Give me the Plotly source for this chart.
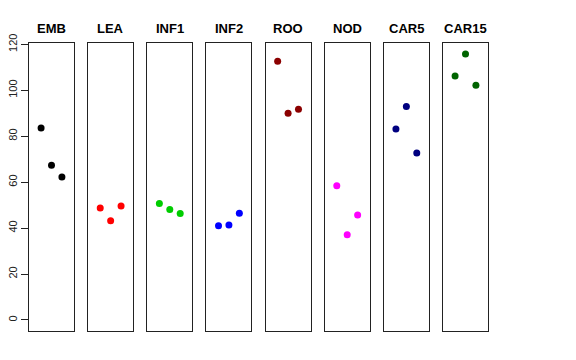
import plotly.graph_objects as go

groups = ["EMB", "LEA", "INF1", "INF2", "ROO", "NOD", "CAR5", "CAR15"]
x_positions = [1, 2, 3]
values = {
    "EMB": [83.6, 67.4, 62.2],
    "LEA": [48.8, 43.2, 49.6],
    "INF1": [50.7, 48.1, 46.4],
    "INF2": [41.0, 41.3, 46.5],
    "ROO": [112.6, 90.0, 91.7],
    "NOD": [58.4, 37.1, 45.7],
    "CAR5": [83.2, 92.9, 72.7],
    "CAR15": [106.2, 115.8, 102.2],
}
colors = ["#000000", "#FF0000", "#00CD00", "#0000FF", "#8B0000", "#FF00FF", "#000080", "#006400"]
y_ticks = [0, 20, 40, 60, 80, 100, 120]

W, H = 576, 360
ml, mr, mt, mb = 29, 88, 43, 29
pw = W - ml - mr
panel_w = 45
step = (488 - 29 - panel_w) / 7.0

fig = go.Figure()
annotations = []
for i, g in enumerate(groups):
    left = 29 + i * step
    d0 = (left - ml) / pw
    d1 = (left + panel_w - ml) / pw
    xa = "xaxis" if i == 0 else f"xaxis{i+1}"
    ya = "yaxis" if i == 0 else f"yaxis{i+1}"
    xr = "x" if i == 0 else f"x{i+1}"
    yr = "y" if i == 0 else f"y{i+1}"
    fig.add_trace(go.Scatter(
        x=x_positions, y=values[g], mode="markers",
        marker=dict(color=colors[i], size=7, line=dict(width=0)),
        xaxis=xr, yaxis=yr, showlegend=False, hoverinfo="y"))
    fig.layout[xa] = dict(domain=[d0, d1], range=[-0.16, 4.16], showgrid=False,
                          zeroline=False, showticklabels=False, ticks="",
                          showline=True, mirror=True, linecolor="#222222", linewidth=1,
                          anchor=yr, automargin=False)
    yax = dict(domain=[0, 1], range=[-4.8, 120.6], showgrid=False, zeroline=False,
               showline=True, mirror=True, linecolor="#222222", linewidth=1, anchor=xr,
               automargin=False)
    if i == 0:
        yax.update(tickmode="array", tickvals=y_ticks, ticktext=[str(t) for t in y_ticks],
                   ticks="outside", ticklen=7, tickcolor="#222222", tickangle=-90,
                   tickfont=dict(family="Liberation Sans, Arial", size=11, color="#222222"))
    else:
        yax.update(showticklabels=False, ticks="")
    fig.layout[ya] = yax
    annotations.append(dict(text=f"<b>{g}</b>", x=(d0 + d1) / 2, xref="paper",
                            y=1, yref="paper", yanchor="bottom", xanchor="center",
                            yshift=5, showarrow=False,
                            font=dict(family="Liberation Sans, Arial", size=13, color="#000000")))

fig.update_layout(width=W, height=H, margin=dict(l=ml, r=mr, t=mt, b=mb, autoexpand=False),
                  paper_bgcolor="white", plot_bgcolor="white",
                  annotations=annotations, showlegend=False)
fig.write_html("out.html", config={"displayModeBar": False},
               post_script="document.body.style.margin='0';")
